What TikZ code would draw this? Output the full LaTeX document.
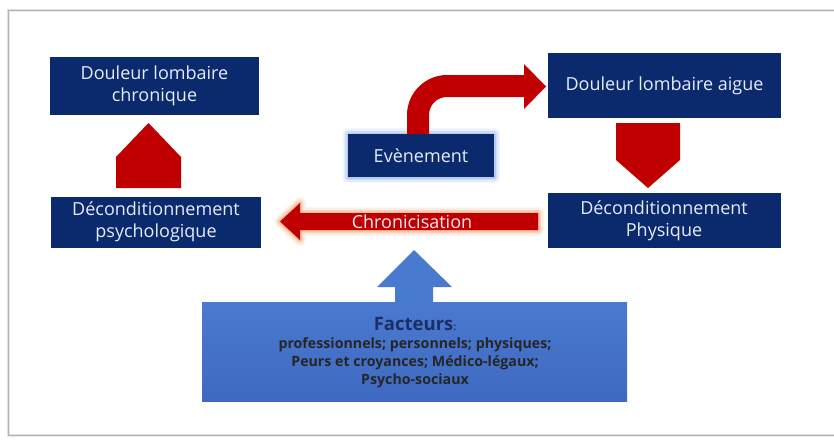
\documentclass[tikz,border=0pt]{standalone}
\usepackage{fontspec}
\setmainfont{Open Sans}
\usetikzlibrary{positioning}
\definecolor{navy}{HTML}{0B2A6E}
\definecolor{arrred}{HTML}{C00000}
\definecolor{bluebox}{HTML}{4A7AD0}
\definecolor{bluedark}{HTML}{3F69C0}
\definecolor{factnavy}{HTML}{1B2F66}
\definecolor{glowblue}{HTML}{8FB0E8}
\definecolor{gloworange}{HTML}{F0A070}
\definecolor{boxtext}{HTML}{E6ECF6}
\tikzset{
  navybox/.style={fill=navy, text=boxtext, align=center, inner sep=0pt, font=\fontsize{18}{22}\selectfont},
  redshape/.style={fill=arrred},
}
\begin{document}
\begin{tikzpicture}[x=1pt,y=-1pt]
\useasboundingbox (0,0) rectangle (834,439);
\clip (0,0) rectangle (834,439);
% frame
\fill[white] (0,0) rectangle (834,439);
\foreach \o/\c in {3/black!8,2/black!12,1/black!20}{
  \draw[line width=\o pt, draw=\c] (8,10) rectangle (900,435);
}
\draw[line width=0.8pt, draw=black!30] (8,10) rectangle (900,435);
% boxes
\node[navybox, minimum width=209pt, minimum height=58pt] (dlc) at (154.5,86) {Douleur lombaire\\chronique};
\node[navybox, minimum width=233pt, minimum height=65pt] (dla) at (664.5,85.5) {Douleur lombaire aigue};
\node[navybox, minimum width=210pt, minimum height=51pt] (dpsy) at (156,222) {Déconditionnement\\psychologique};
\node[navybox, minimum width=233pt, minimum height=55pt] (dphy) at (664,220.5) {Déconditionnement\\Physique};
% glow for event
\foreach \w/\op in {12/0.10,9/0.15,6/0.25,3/0.4}{
  \draw[glowblue, line width=\w pt, opacity=\op, line join=round] (348,134) rectangle (494,177);
}
\node[navybox, minimum width=146pt, minimum height=43pt] (evt) at (421,155.5) {Evènement};
% bent arrow from event to acute pain
\fill[redshape] (407,134) -- (407,115) .. controls (407,93) and (425,75) .. (447,75)
  -- (524,75) -- (524,64) -- (546,86.5) -- (524,109) -- (524,97) -- (447,97)
  .. controls (437,97) and (429,105) .. (429,115) -- (429,134) -- cycle;
% down pentagon right
\fill[redshape] (616,123) -- (680,123) -- (680,160) -- (648,188) -- (616,160) -- cycle;
% up pentagon left
\fill[redshape] (116,188) -- (116,157) -- (148.5,123) -- (181,157) -- (181,188) -- cycle;
% chronicisation arrow with orange glow
\foreach \w/\op in {12/0.10,9/0.15,6/0.25,3/0.45}{
  \draw[gloworange, line width=\w pt, opacity=\op, line join=round]
    (538,213) -- (300,213) -- (300,203) -- (280,221.5) -- (300,240) -- (300,230) -- (538,230) -- cycle;
}
\fill[redshape] (538,213) -- (300,213) -- (300,203) -- (280,221.5) -- (300,240) -- (300,230) -- (538,230) -- cycle;
\node[text=boxtext, font=\fontsize{18}{22}\selectfont] (chron) at (412,222) {Chronicisation};
% blue up arrow + box
\fill[bluebox] (395,302) -- (395,287) -- (377,287) -- (414,250) -- (452,287) -- (433,287) -- (433,302) -- cycle;
\node[top color=bluebox, bottom color=bluedark, minimum width=425pt, minimum height=99pt, inner sep=0pt] (fact) at (414.5,351.5) {};
\node[align=center, font=\bfseries\fontsize{14.2}{18}\selectfont, text=black!85] (facttxt) at (415,353)
  {{\color{factnavy}\fontsize{18.5}{20}\selectfont Facteurs\fontsize{10}{10}\selectfont:}\\[0pt]
   professionnels; personnels; physiques;\\
   Peurs et croyances; Médico-légaux;\\
   Psycho-sociaux};
\end{tikzpicture}
\end{document}
